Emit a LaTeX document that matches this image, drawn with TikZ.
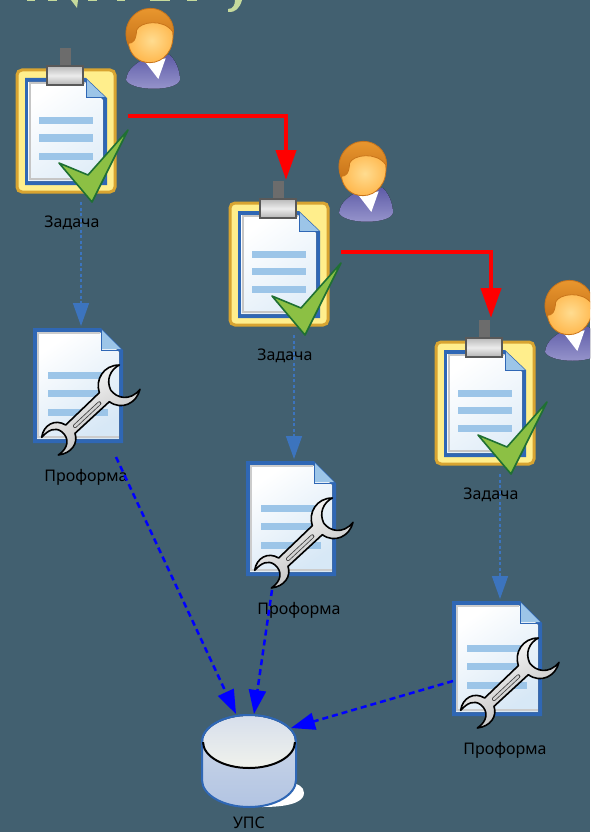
\documentclass[tikz,border=0pt]{standalone}
\usepackage{fontspec}
\setmainfont{Noto Sans}
\usepackage{tikz}
\usetikzlibrary{arrows.meta}
\definecolor{slide}{HTML}{426070}
\definecolor{titlegreen}{HTML}{C6DA9C}
\definecolor{docblue}{HTML}{2F67B5}
\definecolor{rowblue}{HTML}{9CC5E8}
\definecolor{boardline}{HTML}{D8A431}
\definecolor{boardfill}{HTML}{FFEE8C}
\definecolor{checkline}{HTML}{1F7033}
\definecolor{checkfill}{HTML}{8CC044}
\definecolor{flowblue}{HTML}{3C74BE}
\definecolor{hairdark}{HTML}{C8741A}
\definecolor{hairlight}{HTML}{E8962E}
\definecolor{facein}{HTML}{FFDC90}
\definecolor{faceout}{HTML}{FFB84E}
\definecolor{bodytop}{HTML}{5F5DA8}
\definecolor{bodybot}{HTML}{9A98CE}
\definecolor{drumtop}{HTML}{D7DFEC}
\definecolor{drumlid}{HTML}{F0F2EC}
\definecolor{drumside}{HTML}{D0DAEA}
\definecolor{drumbot}{HTML}{B2C4E2}
\tikzset{
  hairline/.style = {draw=hairdark, line width=.8pt},
  task/.pic = {
    % person
    \begin{scope}[scale=1/3]
      \draw[hairline, top color=hairlight, bottom color=hairdark] (385,135) .. controls (360,75) and (405,25) .. (450,25) .. controls (500,25) and (530,70) .. (518,110) -- cycle;
      \fill[top color=bodytop, bottom color=bodybot] (378,240) .. controls (382,205) and (410,190) .. (440,170) -- (510,165) .. controls (530,185) and (540,215) .. (540,240) .. controls (530,275) and (395,275) .. cycle;
      \fill[white] (435,185) -- (475,237) -- (497,175) -- cycle;
      \draw[hairline, inner color=facein, outer color=faceout] (410,90) .. controls (420,65) and (490,55) .. (518,95) .. controls (525,150) and (490,188) .. (450,188) .. controls (415,188) and (390,165) .. (385,130) .. controls (400,130) and (408,120) .. (410,90) -- cycle;
    \end{scope}
    % board and clip
    \draw[boardline, line width=3pt, fill=boardfill, rounded corners=5pt] (17,70) rectangle (115,192);
    \fill[docblue] (25,78) -- (86,78) -- (107,98) -- (107,185) -- (25,185) -- cycle;
    \fill[left color=white, right color=white!70!rowblue, shading angle=35] (28,82) -- (85,82) -- (103,100) -- (103,181) -- (28,181) -- cycle;
    \draw[gray!45, line width=2.5pt] (103,179) -- (30,179) -- (30,83) -- (85,83);
    \fill[rowblue] (86,79) -- (106,98) -- (86,98) -- cycle;
    \draw[docblue, line width=1pt] (86,79) -- (86,98) -- (106,98);
    \foreach \rowy in {121,138,156} \fill[rowblue] (39,\rowy-3.5) rectangle (93,\rowy+3.5);
    \fill[gray!85!black] (60,48) rectangle (71,67);
    \draw[gray!70!black, line width=1.2pt, top color=gray!55, bottom color=gray!60, middle color=white!85!gray] (47,66) rectangle (83,85);
    % check mark
    \draw[checkline, line width=1.6pt, fill=checkfill, line join=round] (59,163) -- (88,175) -- (128,130) -- (92,202) -- cycle;
    \coordinate (-taskout) at (128,116);
    \coordinate (-down) at (81,202);
    \node[lbl] (-name) at (72,223) {Задача};
  },
  form/.pic = {
    \fill[docblue] (33,328) -- (101,328) -- (123,350) -- (123,443) -- (33,443) -- cycle;
    \fill[left color=white, right color=white!60!rowblue, shading angle=35] (37,332) -- (100,332) -- (119,352) -- (119,439) -- (37,439) -- cycle;
    \draw[gray!40, line width=2pt] (119,437) -- (38,437) -- (38,333) -- (100,333);
    \fill[rowblue] (102,330) -- (121,349) -- (102,349) -- cycle;
    \draw[docblue, line width=1pt] (101,329) -- (101,350) -- (123,350);
    \foreach \rowy in {375,393,412} \fill[rowblue] (48,\rowy-3.5) rectangle (108,\rowy+3.5);
    % wrench
    \begin{scope}[shift={(20,320)},scale=1/3]
      \draw[black, line width=1.6pt, left color=white, right color=gray!55, shading angle=30, line join=round]
        (298,135) .. controls (270,150) and (258,180) .. (272,210) .. controls (290,235) and (330,245) .. (360,208)
        .. controls (350,250) and (305,272) .. (268,245) -- (165,340) .. controls (175,370) and (155,400) .. (115,405)
        .. controls (145,385) and (150,355) .. (125,335) .. controls (105,320) and (85,330) .. (65,352)
        .. controls (70,315) and (105,295) .. (137,315) -- (238,218) .. controls (225,180) and (250,135) .. (298,135) -- cycle;
      \draw[black!75, line width=4pt, line cap=round] (165,318) -- (238,250);
      \draw[gray!35, line width=2.4pt, line cap=round] (165,318) -- (238,250);
    \end{scope}
    \coordinate (-top) at (81,326);
    \coordinate (-out) at (116,457);
    \node[lbl] (-name) at (86,477) {Проформа};
  },
  lbl/.style = {text=black, font=\fontsize{16}{18}\selectfont, inner sep=0pt},
  redflow/.style = {-{Triangle[length=30pt,width=20pt]}, red, line width=4pt},
  taskflow/.style = {-{Triangle[length=23pt,width=16pt]}, flowblue, line width=1.5pt, dash pattern=on 3pt off 2.5pt},
  dbflow/.style = {-{Triangle[length=24pt,width=17pt]}, blue, line width=2.5pt, dash pattern=on 6pt off 4pt},
}
\begin{document}
\begin{tikzpicture}[x=1pt, y=-1pt]
    \useasboundingbox (0,0) rectangle (590,832);
    \clip (0,0) rectangle (590,832);
    \fill[slide] (0,0) rectangle (590,832);

    % what is left of the title
    \fill[titlegreen] (235,0) -- (242,0) .. controls (240,8) and (235,13) .. (228,12) -- (228,9) .. controls (233,9) and (235,5) .. (235,0);
    \fill[titlegreen] (71,0) -- (78,0) -- (77,8) -- cycle;
    \foreach \bitx/\bitw in {27/8,48/9,88/9,117/8,150/20,187/10} \fill[titlegreen] (\bitx,0) rectangle (\bitx+\bitw,1.5);

    \pic (t1) at (0,0) {task};
    \pic (t2) at (213,133) {task};
    \pic (t3) at (419,272) {task};

    \pic (f1) at (0,0) {form};
    \pic (f2) at (213,133) {form};
    \pic (f3) at (419,273) {form};

    % database
    \fill[white] (262,807) .. controls (295,807) and (304,800) .. (304,793) .. controls (304,787) and (298,783) .. (290,783) -- cycle;
    \draw[docblue, line width=2pt, top color=drumside, bottom color=drumbot]
      (202,742) -- (202,780) arc[start angle=180, end angle=360, x radius=47, y radius=-27] -- (296,742) arc[start angle=0, end angle=180, x radius=47, y radius=-27] -- cycle;
    \fill[top color=drumtop, bottom color=drumlid] (203,742) arc[start angle=180, end angle=360, x radius=46, y radius=-26] arc[start angle=0, end angle=180, x radius=46, y radius=-26] -- cycle;
    \draw[black, line width=2pt] (203,742) arc[start angle=180, end angle=360, x radius=46, y radius=-26];
    \draw[docblue, line width=2pt] (202,742) arc[start angle=180, end angle=0, x radius=47, y radius=-27];
    \node[lbl] (upsname) at (249,823) {УПС};
    \coordinate (upsa) at (236,714);
    \coordinate (upsb) at (254,714);
    \coordinate (upsc) at (291,728);

    \coordinate (f2out) at (272,590);
    \coordinate (f3out) at (453,681);
    \coordinate (t2red) at (341,252);
    \coordinate (t2in) at (286,180);
    \coordinate (t3in) at (491,318);

    \draw[redflow] (t1-taskout) -| (t2in);
    \draw[redflow] (t2red) -| (t3in);

    \draw[taskflow] (t1-down) -- (f1-top);
    \draw[taskflow] (t2-down) -- (f2-top);
    \draw[taskflow] (t3-down) -- (f3-top);

    \draw[dbflow] (f1-out) -- (upsa);
    \draw[dbflow] (f2out) -- (upsb);
    \draw[dbflow] (f3out) -- (upsc);
\end{tikzpicture}
\end{document}
